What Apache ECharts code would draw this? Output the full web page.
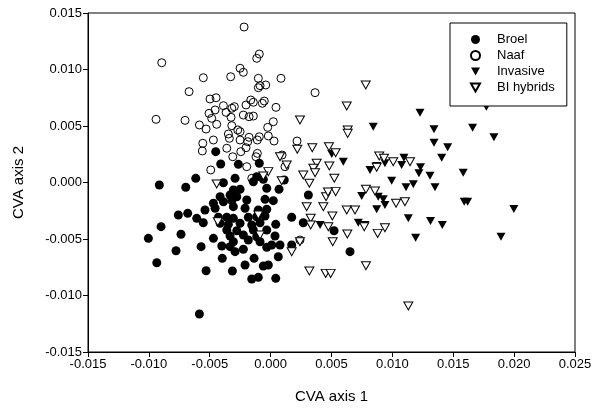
<!DOCTYPE html>
<html><head><meta charset="utf-8">
<script src="https://cdn.jsdelivr.net/npm/echarts/dist/echarts.min.js"></script>
<style>html,body{margin:0;padding:0;background:#fff}#c{width:600px;height:415px}</style>
</head><body><div id="c"></div>
<script>
const seriesNames = ['Broel', 'Naaf', 'Invasive', 'BI hybrids'];
const xAxisTitle = 'CVA axis 1';
const yAxisTitle = 'CVA axis 2';

const broel = [
[-0.00914,-0.00022],[-0.00697,-0.00042],[-0.00615,0.00037],[-0.00451,0.00273],[-0.00410,0.00164],
[-0.00265,0.00161],[-0.00093,0.00170],[-0.00292,0.00037],[-0.00388,-0.00002],[-0.00142,0.00007],
[-0.00114,0.00051],[-0.00060,0.00028],[-0.00032,-0.00051],[0.00069,-0.00060],[0.00112,0.00022],
[-0.00306,-0.00066],[-0.00251,-0.00060],[-0.00415,-0.00126],[-0.00333,-0.00111],[-0.00278,-0.00126],
[-0.00470,-0.00184],[-0.00388,-0.00170],[-0.00319,-0.00161],[-0.00196,-0.00155],[-0.00046,-0.00149],
[0.00022,-0.00161],[-0.00539,-0.00243],[-0.00456,-0.00228],[-0.00306,-0.00214],[-0.00210,-0.00228],
[-0.00101,-0.00243],[-0.00032,-0.00237],[-0.00758,-0.00288],[-0.00681,-0.00273],[-0.00607,-0.00317],
[-0.00553,-0.00356],[-0.00429,-0.00308],[-0.00360,-0.00308],[-0.00306,-0.00317],[-0.00183,-0.00308],
[-0.00114,-0.00303],[-0.00046,-0.00296],[0.00173,-0.00308],[-0.00415,-0.00361],[-0.00347,-0.00370],
[-0.00251,-0.00361],[-0.00155,-0.00376],[-0.00087,-0.00356],[0.00042,-0.00370],[-0.00900,-0.00391],
[-0.00360,-0.00420],[-0.00278,-0.00427],[-0.00142,-0.00420],[-0.00032,-0.00420],[-0.00736,-0.00458],
[-0.00333,-0.00473],[-0.00224,-0.00465],[-0.00114,-0.00480],[0.00036,-0.00473],[-0.01004,-0.00494],
[-0.00470,-0.00494],[-0.00306,-0.00524],[-0.00183,-0.00509],[-0.00087,-0.00524],[0.00009,-0.00553],
[0.00077,-0.00553],[-0.00571,-0.00568],[-0.00401,-0.00562],[-0.00333,-0.00568],[0.00173,-0.00553],
[-0.00777,-0.00604],[-0.00292,-0.00612],[-0.00224,-0.00591],[-0.00032,-0.00573],[-0.00397,-0.00671],
[-0.00136,-0.00671],[0.00063,-0.00657],[-0.00935,-0.00710],[-0.00210,-0.00730],[-0.00060,-0.00739],
[-0.00019,-0.00730],[-0.00530,-0.00781],[-0.00314,-0.00783],[-0.00155,-0.00854],[-0.00101,-0.00839],
[0.00042,-0.00848],[-0.00585,-0.01164],[0.00310,-0.00111],[0.00268,-0.00356],[0.00521,-0.00427],
[0.00652,-0.00612]
];

const naaf = [
[-0.00218,0.01376],[-0.00894,0.01060],[-0.00114,0.01099],[-0.00093,0.01137],[-0.00251,0.01011],
[-0.00224,0.00975],[-0.00553,0.00927],[-0.00328,0.00936],[-0.00101,0.00922],[-0.00087,0.00857],
[-0.00040,0.00863],[-0.00101,0.00839],[0.00085,0.00922],[-0.00670,0.00804],[-0.00498,0.00739],
[-0.00448,0.00750],[-0.00388,0.00680],[-0.00319,0.00657],[-0.00298,0.00671],[-0.00163,0.00730],
[-0.00142,0.00710],[-0.00202,0.00686],[-0.00052,0.00721],[-0.00068,0.00701],[0.00044,0.00665],
[-0.00506,0.00612],[-0.00456,0.00642],[-0.00366,0.00621],[-0.00325,0.00577],[-0.00224,0.00597],
[-0.00177,0.00582],[-0.00142,0.00588],[-0.00703,0.00550],[-0.00484,0.00568],[0.00022,0.00538],
[-0.00585,0.00509],[-0.00530,0.00473],[-0.00443,0.00515],[-0.00319,0.00503],[-0.00270,0.00465],
[-0.00024,0.00488],[-0.00347,0.00429],[-0.00251,0.00450],[-0.00177,0.00400],[-0.00093,0.00405],
[-0.00019,0.00412],[-0.00470,0.00376],[-0.00941,0.00559],[-0.00557,0.00347],[-0.00561,0.00279],
[-0.00339,0.00391],[-0.00251,0.00376],[-0.00188,0.00361],[-0.00109,0.00376],[0.00028,0.00367],
[-0.00360,0.00303],[-0.00245,0.00273],[-0.00202,0.00308],[-0.00311,0.00228],[-0.00120,0.00228],
[-0.00109,0.00258],[-0.00492,0.00111],[-0.00196,0.00140],[-0.00155,0.00037],[0.00118,0.00140],
[0.00217,0.00367],[0.00365,0.00795],[0.00094,0.00243],[0.00241,-0.00509]
];

const invasive = [
[0.01772,0.00671],[0.01227,0.00618],[0.00843,0.00494],[0.01342,0.00471],[0.01659,0.00485],
[0.01834,0.00400],[0.01342,0.00352],[0.01454,0.00312],[0.01405,0.00219],[0.00502,0.00252],
[0.00597,0.00184],[0.01095,0.00219],[0.01076,0.00155],[0.00816,0.00111],[0.00871,0.00146],
[0.00939,0.00170],[0.01231,0.00135],[0.01218,0.00081],[0.01309,0.00060],[0.01582,0.00087],
[0.00994,0.00016],[0.01112,-0.00042],[0.01172,-0.00016],[0.01350,-0.00042],[0.00748,-0.00119],
[0.00884,-0.00126],[0.00925,-0.00149],[0.00939,-0.00199],[0.00871,-0.00237],[0.01590,-0.00170],
[0.01618,-0.00170],[0.01998,-0.00235],[0.01131,-0.00317],[0.01313,-0.00341],[0.01410,-0.00376],
[0.00406,-0.00376],[0.00720,-0.00356],[0.00775,-0.00376],[0.01191,-0.00488],[0.01892,-0.00480]
];

const hybrids = [
[0.00781,0.00863],[0.00625,0.00677],[0.00241,0.00553],[0.00633,0.00465],[0.00633,0.00435],
[0.00219,0.00294],[0.00342,0.00308],[0.00479,0.00317],[0.00534,0.00264],[0.00132,0.00155],
[0.00378,0.00170],[0.00351,0.00126],[0.00482,0.00146],[0.00268,0.00066],[0.00365,0.00087],
[0.00318,-0.00007],[0.00523,0.00037],[0.00455,-0.00126],[0.00534,-0.00081],[0.00892,0.00235],
[0.00931,0.00214],[0.01007,0.00184],[0.01145,0.00184],[0.00871,0.00135],[0.00783,-0.00060],
[0.00857,-0.00075],[0.00296,-0.00214],[0.00433,-0.00214],[0.00625,-0.00243],[0.00693,-0.00243],
[0.00507,-0.00296],[0.00329,-0.00317],[0.00329,-0.00376],[0.00474,-0.00391],[0.00769,-0.00391],
[0.00939,-0.00400],[0.00879,-0.00450],[0.01030,-0.00184],[0.01103,-0.00170],[0.00630,-0.00456],
[0.00510,-0.00524],[0.00241,-0.00524],[0.00173,-0.00612],[0.00318,-0.00783],[0.00452,-0.00804],
[0.00493,-0.00804],[0.00783,-0.00736],[0.01131,-0.01093],[0.00077,0.00228],[-0.00019,0.00096],
[-0.00060,0.00058],[0.00091,0.00016],[-0.00443,-0.00013],[-0.00101,-0.00288],[-0.00087,-0.00465],
[-0.00434,-0.00347],[0.00471,-0.00084]
];

const FONT = '"Liberation Sans", Arial, sans-serif';
const DOWN = 'path://M0,0L10,0L5,9Z';

const chart = echarts.init(document.getElementById('c'));
chart.setOption({
  animation: false,
  backgroundColor: '#fff',
  grid: { left: 88, right: 25, top: 13, bottom: 63, show: true, borderColor: '#000', borderWidth: 1 },
  xAxis: {
    type: 'value', min: -0.015, max: 0.025, interval: 0.005,
    name: xAxisTitle, nameLocation: 'middle', nameGap: 37,
    nameTextStyle: { fontFamily: FONT, fontSize: 15, color: '#000' },
    axisLine: { onZero: false, lineStyle: { color: '#000', width: 1 } },
    axisTick: { inside: false, length: 5, lineStyle: { color: '#000' } },
    axisLabel: { formatter: v => v.toFixed(3), color: '#000', fontFamily: FONT, fontSize: 13, margin: 6 },
    splitLine: { show: false }
  },
  yAxis: {
    type: 'value', min: -0.015, max: 0.015, interval: 0.005,
    name: yAxisTitle, nameLocation: 'middle', nameGap: 62,
    nameTextStyle: { fontFamily: FONT, fontSize: 15, color: '#000' },
    axisLine: { onZero: false, lineStyle: { color: '#000', width: 1 } },
    axisTick: { inside: false, length: 5, lineStyle: { color: '#000' } },
    axisLabel: { formatter: v => v.toFixed(3), color: '#000', fontFamily: FONT, fontSize: 13, margin: 6 },
    splitLine: { show: false }
  },
  legend: {
    orient: 'vertical', left: 450, top: 23,
    padding: [10, 12, 12, 20], itemGap: 3, itemWidth: 9, itemHeight: 9,
    borderColor: '#000', borderWidth: 1, backgroundColor: '#fff',
    textStyle: { fontFamily: FONT, fontSize: 13, color: '#000', padding: [0, 0, 0, 12], lineHeight: 13 },
    data: [
      { name: seriesNames[0], icon: 'circle' },
      { name: seriesNames[1], icon: 'circle' },
      { name: seriesNames[2], icon: DOWN },
      { name: seriesNames[3], icon: DOWN }
    ]
  },
  series: [
    { name: seriesNames[0], type: 'scatter', data: broel, symbol: 'circle', symbolSize: 9,
      itemStyle: { color: '#000', opacity: 1 } },
    { name: seriesNames[1], type: 'scatter', data: naaf, symbol: 'circle', symbolSize: 8,
      itemStyle: { color: 'rgba(255,255,255,0)', borderColor: '#000', borderWidth: 1, opacity: 1 } },
    { name: seriesNames[2], type: 'scatter', data: invasive, symbol: DOWN, symbolSize: [9, 8],
      itemStyle: { color: '#000', opacity: 1 } },
    { name: seriesNames[3], type: 'scatter', data: hybrids, symbol: DOWN, symbolSize: [9, 8],
      itemStyle: { color: '#fff', borderColor: '#000', borderWidth: 1, opacity: 1 } }
  ]
});
</script></body></html>
